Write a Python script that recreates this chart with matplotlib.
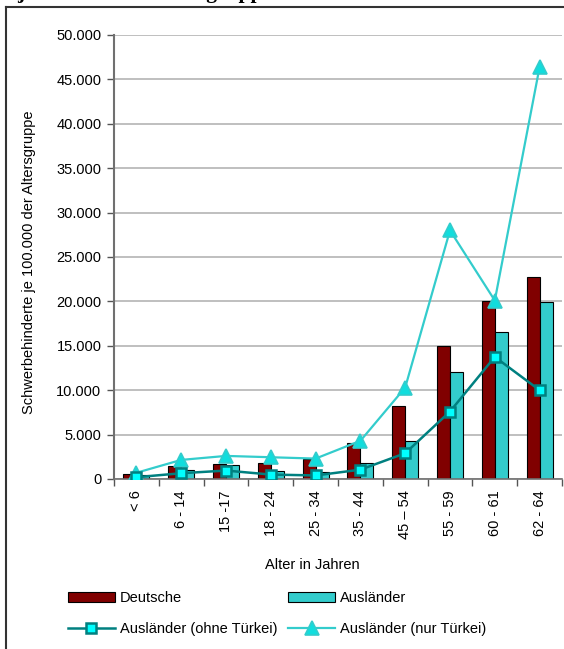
import matplotlib
matplotlib.use("Agg")
import matplotlib.pyplot as plt
import numpy as np
from matplotlib.lines import Line2D
from matplotlib.patches import Patch
from matplotlib.ticker import FuncFormatter, MultipleLocator, FixedLocator

plt.rcParams['font.family'] = ['Liberation Sans', 'DejaVu Sans']

categories = ["< 6", "6 - 14", "15 -17", "18 - 24", "25 - 34", "35 - 44", "45 \u2013 54", "55 - 59", "60 - 61", "62 - 64"]
deutsche = [600, 1500, 1700, 1800, 2200, 4100, 8200, 15000, 20000, 22700]
auslaender = [400, 1050, 1600, 850, 800, 1750, 4300, 12000, 16550, 19900]
ohne_tuerkei = [200, 650, 950, 500, 400, 1050, 2900, 7600, 13750, 10000]
nur_tuerkei = [700, 2150, 2600, 2450, 2300, 4300, 10300, 28000, 20100, 46400]

W, H = 564, 649
fig = plt.figure(figsize=(W / 100, H / 100), dpi=100)

def fx(px):
    return px / W

def fy(py):
    return 1 - py / H

# outer border (left and top only visible)
fig.add_artist(Line2D([fx(6), fx(6)], [fy(7), 0], color="#333333", lw=1.5))
fig.add_artist(Line2D([fx(6), 1], [fy(7), fy(7)], color="#333333", lw=1.5))

# title line, almost entirely above the top edge (only descenders visible)
fig.text(fx(17), fy(-2), "je 100.000 der Altersgruppe", family="Liberation Serif",
         fontweight="bold", fontsize=15.5, ha="left", va="baseline")

left, right, top, bottom = 114, 562, 35, 479
ax = fig.add_axes([fx(left), fy(bottom), fx(right - left), (bottom - top) / H])

x = np.arange(len(categories))
bw = 0.29
ax.bar(x - bw / 2, deutsche, width=bw, color="#800000", edgecolor="black", linewidth=0.8, zorder=2)
ax.bar(x + bw / 2, auslaender, width=bw, color="#33CCCC", edgecolor="black", linewidth=0.8, zorder=2)
ax.plot(x, nur_tuerkei, color="#33CCCC", lw=1.6, marker="^", markersize=10,
        markerfacecolor="#11DDDD", markeredgecolor="#33CCCC", markeredgewidth=1.2, zorder=4)
ax.plot(x, ohne_tuerkei, color="#008080", lw=1.8, marker="s", markersize=7.5,
        markerfacecolor="#00FFFF", markeredgecolor="#008080", markeredgewidth=1.8, zorder=5)

ax.set_xlim(-0.5, len(categories) - 0.5)
ax.set_ylim(0, 50000)
ax.yaxis.set_major_locator(MultipleLocator(5000))
ax.yaxis.set_major_formatter(FuncFormatter(lambda v, p: f"{int(v):,}".replace(",", ".")))
ax.grid(axis="y", color="#b4b4b4", lw=1.2, zorder=0)
ax.set_axisbelow(True)

ax.xaxis.set_major_locator(FixedLocator(np.arange(-0.5, len(categories), 1.0)))
ax.xaxis.set_major_formatter(FuncFormatter(lambda v, p: ""))
ax.xaxis.set_minor_locator(FixedLocator(x))
ax.set_xticklabels(categories, minor=True, rotation=90, fontsize=10.5)
ax.tick_params(axis="x", which="minor", length=0, pad=8)
ax.tick_params(axis="x", which="major", length=5, width=1, color="#555555", direction="out")
ax.tick_params(axis="y", length=5, width=1, color="#555555", labelsize=10.5, pad=4)

for s in ["top", "right"]:
    ax.spines[s].set_visible(False)
ax.spines["left"].set_color("#707070")
ax.spines["left"].set_linewidth(1.5)
ax.spines["bottom"].set_color("#707070")
ax.spines["bottom"].set_linewidth(1.2)

fig.text(fx(29), fy(262), "Schwerbehinderte je 100.000 der Altersgruppe", rotation=90,
         ha="center", va="center", fontsize=10.5)
fig.text(fx(312), fy(565), "Alter in Jahren", ha="center", va="center", fontsize=10.5)

handles = [
    Patch(facecolor="#800000", edgecolor="black", linewidth=0.8),
    Line2D([], [], color="#008080", lw=1.8, marker="s", markersize=7.5,
           markerfacecolor="#00FFFF", markeredgecolor="#008080", markeredgewidth=1.8),
    Patch(facecolor="#33CCCC", edgecolor="black", linewidth=0.8),
    Line2D([], [], color="#33CCCC", lw=1.6, marker="^", markersize=10,
           markerfacecolor="#11DDDD", markeredgecolor="#33CCCC", markeredgewidth=1.2),
]
labels = ["Deutsche", "Ausl\u00e4nder (ohne T\u00fcrkei)", "Ausl\u00e4nder", "Ausl\u00e4nder (nur T\u00fcrkei)"]
fig.legend(handles, labels, ncol=2, loc="upper left", bbox_to_anchor=(fx(68), fy(591)),
           frameon=False, fontsize=10.5, borderpad=0, borderaxespad=0,
           handlelength=3.2, handletextpad=0.35, columnspacing=0.75, labelspacing=1.2,
           handleheight=0.75)

fig.savefig("out.png", dpi=100)
